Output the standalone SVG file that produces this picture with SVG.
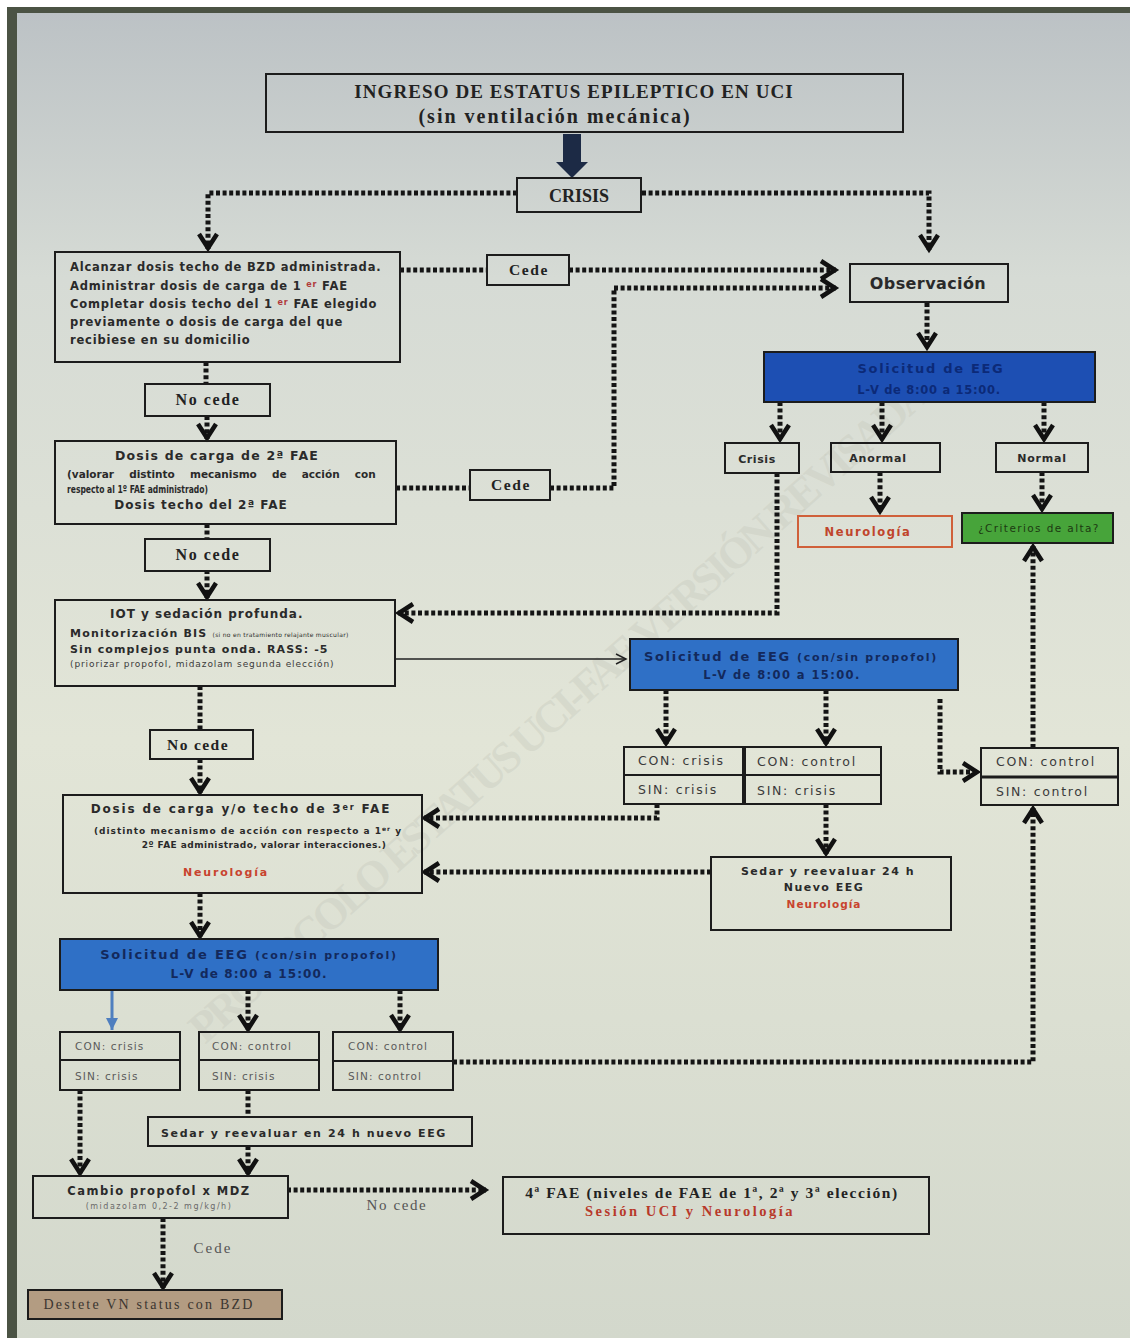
<svg xmlns="http://www.w3.org/2000/svg" width="1130" height="1338" viewBox="0 0 1130 1338">
<defs>
<linearGradient id="bg" x1="0" y1="0" x2="0" y2="1">
<stop offset="0" stop-color="#bcc2c5"/>
<stop offset="0.2" stop-color="#d6dbd5"/>
<stop offset="0.55" stop-color="#e2e5d7"/>
<stop offset="1" stop-color="#d3d8cc"/>
</linearGradient>
<marker id="ch" markerUnits="userSpaceOnUse" markerWidth="24" markerHeight="24" viewBox="0 0 24 24" refX="19" refY="12" orient="auto">
<path d="M4,3 L18,12 L4,21" fill="none" stroke="#111" stroke-width="4.5" stroke-linejoin="miter"/>
</marker>
<marker id="thin" markerUnits="userSpaceOnUse" markerWidth="14" markerHeight="14" viewBox="0 0 14 14" refX="12" refY="7" orient="auto">
<path d="M2,2 L12,7 L2,12" fill="none" stroke="#222" stroke-width="1.5"/>
</marker>
<marker id="blu" markerUnits="userSpaceOnUse" markerWidth="16" markerHeight="16" viewBox="0 0 16 16" refX="14" refY="8" orient="auto">
<path d="M2,2 L14,8 L2,14 Z" fill="#4f7fbf"/>
</marker>
<style>
.box{fill:none;stroke:#1c1c1c;stroke-width:2}
.dot{fill:none;stroke:#141414;stroke-width:5;stroke-dasharray:4 2.6}
.sb{font-family:"DejaVu Sans",Verdana,sans-serif;font-weight:bold;fill:#2a2a2a}
.sr{font-family:"DejaVu Sans",Verdana,sans-serif;fill:#3a3a3a}
.sf{font-family:"Liberation Serif","Times New Roman",serif;font-weight:bold;fill:#222}
.sfr{font-family:"Liberation Serif","Times New Roman",serif;fill:#555}
.mid{text-anchor:middle}
.eeg1{fill:#1d4fb3;stroke:#1c1c1c;stroke-width:2}
.eeg{fill:#2f70c6;stroke:#1c1c1c;stroke-width:2}
.et1{fill:#0c2a78}
.et{fill:#13295c}
.tb{fill:none;stroke:#1c1c1c;stroke-width:2}
.ta{font-family:"DejaVu Sans",Verdana,sans-serif;fill:#3a3a3a;font-size:12.5px;letter-spacing:1.7px}
.tc{font-family:"DejaVu Sans",Verdana,sans-serif;fill:#5a5a5a;font-size:10.5px;letter-spacing:1.1px}
</style>
</defs>

<rect x="0" y="0" width="1130" height="1338" fill="#ffffff"/>
<rect x="7" y="7" width="1123" height="1331" fill="#4b5344"/>
<rect x="17" y="13" width="1113" height="1325" fill="url(#bg)"/>

<!-- watermark -->
<text x="205" y="1045" transform="rotate(-41.7 205 1045)" font-family="Liberation Serif, serif" font-weight="bold" font-size="44" fill="#c9ccc0" fill-opacity="0.45" textLength="975" lengthAdjust="spacing">PROTOCOLO ESTATUS UCI-FAE VERSIÓN REVISADA</text>

<g id="connectors">
<path d="M563,134 H581 V162 H588 L572,178 L556,162 H563 Z" fill="#1c2a45"/>
<path class="dot" d="M517,193 H208 V249" marker-end="url(#ch)"/>
<path class="dot" d="M642,193 H929 V250" marker-end="url(#ch)"/>
<path class="dot" d="M400,270 H487"/>
<path class="dot" d="M569,270 H836" marker-end="url(#ch)"/>
<path class="dot" d="M396,488 H470"/>
<path class="dot" d="M550,488 H614 V288 H836" marker-end="url(#ch)"/>
<path class="dot" d="M927,303 V348" marker-end="url(#ch)"/>
<path class="dot" d="M780,402 V440" marker-end="url(#ch)"/>
<path class="dot" d="M882,402 V440" marker-end="url(#ch)"/>
<path class="dot" d="M1044,402 V440" marker-end="url(#ch)"/>
<path class="dot" d="M880,472 V512" marker-end="url(#ch)"/>
<path class="dot" d="M1042,472 V510" marker-end="url(#ch)"/>
<path class="dot" d="M777,473 V613 H398" marker-end="url(#ch)"/>
<path class="dot" d="M206,362 V384"/>
<path class="dot" d="M207,416 V439" marker-end="url(#ch)"/>
<path class="dot" d="M207,524 V538"/>
<path class="dot" d="M207,570 V598" marker-end="url(#ch)"/>
<path class="dot" d="M200,686 V730"/>
<path class="dot" d="M200,759 V793" marker-end="url(#ch)"/>
<path class="dot" d="M200,893 V937" marker-end="url(#ch)"/>
<path d="M395,659 H626" fill="none" stroke="#222" stroke-width="1.5" marker-end="url(#thin)"/>
<path class="dot" d="M666,690 V744" marker-end="url(#ch)"/>
<path class="dot" d="M826,690 V744" marker-end="url(#ch)"/>
<path class="dot" d="M940,699 V772 H978" marker-end="url(#ch)"/>
<path class="dot" d="M657,804 V818 H424" marker-end="url(#ch)"/>
<path class="dot" d="M826,804 V854" marker-end="url(#ch)"/>
<path class="dot" d="M711,872 H424" marker-end="url(#ch)"/>
<path class="dot" d="M1033,748 V546" marker-end="url(#ch)"/>
<path class="dot" d="M453,1062 H1033 V808" marker-end="url(#ch)"/>
<path d="M112,990 V1030" fill="none" stroke="#4f7fbf" stroke-width="3" marker-end="url(#blu)"/>
<path class="dot" d="M248,990 V1030" marker-end="url(#ch)"/>
<path class="dot" d="M400,990 V1030" marker-end="url(#ch)"/>
<path class="dot" d="M80,1090 V1174" marker-end="url(#ch)"/>
<path class="dot" d="M248,1090 V1117"/>
<path class="dot" d="M248,1146 V1174" marker-end="url(#ch)"/>
<path class="dot" d="M287,1190 H486" marker-end="url(#ch)"/>
<path class="dot" d="M163,1218 V1288" marker-end="url(#ch)"/>
<text class="sfr" x="397" y="1210" font-size="15" text-anchor="middle" letter-spacing="1.6">No cede</text>
<text class="sfr" x="213" y="1253" font-size="15" text-anchor="middle" letter-spacing="2">Cede</text>
</g>

<g id="title">
<rect class="box" x="266" y="74" width="637" height="58"/>
<text class="sf mid" x="574" y="98" font-size="19" letter-spacing="1.1">INGRESO DE ESTATUS EPILEPTICO EN UCI</text>
<text class="sf mid" x="555" y="123" font-size="20" letter-spacing="2">(sin ventilación mecánica)</text>
</g>

<g id="crisis">
<rect class="box" x="517" y="178" width="124" height="34"/>
<text class="sf mid" x="579" y="202" font-size="18" font-weight="normal">CRISIS</text>
</g>

<g id="box1">
<rect class="box" x="55" y="252" width="345" height="110"/>
<text class="sb" x="70" y="271" font-size="11.5" letter-spacing="0.8">Alcanzar dosis techo de BZD administrada.</text>
<text class="sb" x="70" y="290" font-size="11.5" letter-spacing="0.8">Administrar dosis de carga de 1 <tspan fill="#b03a3a" font-size="8" dy="-3">er</tspan><tspan dy="3"> FAE</tspan></text>
<text class="sb" x="70" y="308" font-size="11.5" letter-spacing="0.8">Completar dosis techo del 1 <tspan fill="#b03a3a" font-size="8" dy="-3">er</tspan><tspan dy="3"> FAE elegido</tspan></text>
<text class="sb" x="70" y="326" font-size="11.5" letter-spacing="0.8">previamente o dosis de carga del que</text>
<text class="sb" x="70" y="344" font-size="11.5" letter-spacing="0.8">recibiese en su domicilio</text>
</g>

<g id="cede1">
<rect class="box" x="487" y="255" width="82" height="30"/>
<text class="sf mid" x="529" y="275" font-size="15.5" letter-spacing="1.6">Cede</text>
</g>

<g id="observacion">
<rect class="box" x="850" y="264" width="158" height="38"/>
<text class="sb mid" x="928" y="289" font-size="16" letter-spacing="0.4">Observación</text>
</g>

<g id="eeg1">
<rect class="eeg1" x="764" y="352" width="331" height="50"/>
<text class="sb mid et1" x="931" y="373" font-size="13" letter-spacing="1.7">Solicitud de EEG</text>
<text class="sb mid et1" x="929" y="394" font-size="11.5" letter-spacing="0.7">L-V de 8:00 a 15:00.</text>
</g>

<g id="crisis-eeg">
<rect class="box" x="725" y="443" width="74" height="30"/>
<text class="sb mid" x="757" y="463" font-size="11" letter-spacing="0.6">Crisis</text>
</g>
<g id="anormal">
<rect class="box" x="831" y="443" width="109" height="29"/>
<text class="sb mid" x="878" y="462" font-size="11" letter-spacing="0.8">Anormal</text>
</g>
<g id="normal">
<rect class="box" x="996" y="443" width="92" height="29"/>
<text class="sb mid" x="1042" y="462" font-size="11" letter-spacing="0.8">Normal</text>
</g>

<g id="neurologia1">
<rect x="798" y="516" width="154" height="31" fill="none" stroke="#d0603a" stroke-width="2"/>
<text class="sb mid" x="868" y="536" font-size="11.5" style="fill:#c0452b" letter-spacing="1.6">Neurología</text>
</g>

<g id="criterios">
<rect x="962" y="513" width="151" height="30" fill="#47a43a" stroke="#1c1c1c" stroke-width="2"/>
<text class="sr mid" x="1039" y="532" font-size="10.5" letter-spacing="1.4" style="fill:#1d3a12">¿Criterios de alta?</text>
</g>

<g id="nocede1">
<rect class="box" x="145" y="384" width="125" height="32"/>
<text class="sf mid" x="208" y="405" font-size="16" letter-spacing="1.6">No cede</text>
</g>

<g id="box2">
<rect class="box" x="55" y="441" width="341" height="83"/>
<text class="sb mid" x="217" y="460" font-size="12.5" letter-spacing="1.2">Dosis de carga de 2ª FAE</text>
<text class="sb" x="67" y="478" font-size="10.5" word-spacing="11.5">(valorar distinto mecanismo de acción con</text>
<text class="sb" x="67" y="493" font-size="10" textLength="141" lengthAdjust="spacingAndGlyphs">respecto al 1º FAE administrado)</text>
<text class="sb mid" x="201" y="509" font-size="12" letter-spacing="1">Dosis techo del  2ª FAE</text>
</g>

<g id="cede2">
<rect class="box" x="470" y="470" width="80" height="30"/>
<text class="sf mid" x="511" y="490" font-size="15.5" letter-spacing="1.6">Cede</text>
</g>

<g id="nocede2">
<rect class="box" x="145" y="539" width="125" height="32"/>
<text class="sf mid" x="208" y="560" font-size="16" letter-spacing="1.6">No cede</text>
</g>

<g id="box3">
<rect class="box" x="55" y="600" width="340" height="86"/>
<text class="sb" x="110" y="618" font-size="12" letter-spacing="1">IOT y sedación profunda.</text>
<text class="sb" x="70" y="637" font-size="11" letter-spacing="1.2">Monitorización BIS <tspan font-size="6" font-weight="normal" letter-spacing="0.3">(si no en tratamiento relajante muscular)</tspan></text>
<text class="sb" x="70" y="653" font-size="11" letter-spacing="1.1">Sin complejos punta onda. RASS: -5</text>
<text class="sr" x="70" y="667" font-size="9" letter-spacing="0.9">(priorizar propofol, midazolam segunda elección)</text>
</g>

<g id="eeg2">
<rect class="eeg" x="630" y="639" width="328" height="51"/>
<text class="sb mid et" x="791" y="661" font-size="13" letter-spacing="1.7">Solicitud de EEG <tspan font-size="11">(con/sin propofol)</tspan></text>
<text class="sb mid et" x="782" y="679" font-size="11.5" font-weight="normal" letter-spacing="1.4">L-V de 8:00 a 15:00.</text>
</g>

<g id="tablaA">
<rect class="tb" x="624" y="747" width="257" height="57"/>
<line x1="624" y1="775" x2="881" y2="775" stroke="#1c1c1c" stroke-width="2"/>
<line x1="744" y1="747" x2="744" y2="804" stroke="#1c1c1c" stroke-width="4"/>
<text class="ta" x="638" y="765">CON: crisis</text>
<text class="ta" x="638" y="794">SIN: crisis</text>
<text class="ta" x="757" y="766">CON: control</text>
<text class="ta" x="757" y="795">SIN: crisis</text>
</g>

<g id="tablaB">
<rect class="tb" x="981" y="748" width="137" height="57"/>
<line x1="981" y1="777" x2="1118" y2="777" stroke="#1c1c1c" stroke-width="3"/>
<text class="ta" x="996" y="766">CON: control</text>
<text class="ta" x="996" y="796">SIN:  control</text>
</g>

<g id="nocede3">
<rect class="box" x="150" y="730" width="103" height="29"/>
<text class="sf mid" x="198" y="750" font-size="15.5" letter-spacing="1.4">No cede</text>
</g>

<g id="box4">
<rect class="box" x="63" y="795" width="359" height="98"/>
<text class="sb mid" x="241" y="813" font-size="12" letter-spacing="1.8">Dosis de carga y/o techo de 3<tspan font-size="8" dy="-3">er</tspan><tspan dy="3"> FAE</tspan></text>
<text class="sb mid" x="248" y="834" font-size="9" letter-spacing="1">(distinto mecanismo de acción con respecto a 1<tspan font-size="6" dy="-3">er</tspan><tspan dy="3"> y</tspan></text>
<text class="sb mid" x="264" y="848" font-size="9" letter-spacing="0.45">2º FAE administrado, valorar interacciones.)</text>
<text class="sb mid" x="226" y="876" font-size="11" letter-spacing="1.8" style="fill:#c8432e">Neurología</text>
</g>

<g id="sedar1">
<rect class="box" x="711" y="857" width="240" height="73"/>
<text class="sb mid" x="828" y="875" font-size="11" letter-spacing="1.5">Sedar y reevaluar 24 h</text>
<text class="sb mid" x="824" y="891" font-size="11" letter-spacing="1.5">Nuevo EEG</text>
<text class="sb mid" x="824" y="908" font-size="10.5" letter-spacing="1" style="fill:#c8432e">Neurología</text>
</g>

<g id="eeg3">
<rect class="eeg" x="60" y="939" width="378" height="51"/>
<text class="sb mid et" x="249" y="959" font-size="13" letter-spacing="1.8">Solicitud de EEG <tspan font-size="11">(con/sin propofol)</tspan></text>
<text class="sb mid et" x="249" y="978" font-size="12" font-weight="normal" letter-spacing="1.1">L-V de 8:00 a 15:00.</text>
</g>

<g id="t1">
<rect class="tb" x="60" y="1032" width="120" height="58"/>
<line x1="60" y1="1060" x2="180" y2="1060" stroke="#1c1c1c" stroke-width="2"/>
<text class="tc" x="75" y="1050">CON: crisis</text>
<text class="tc" x="75" y="1080">SIN: crisis</text>
</g>
<g id="t2">
<rect class="tb" x="199" y="1032" width="120" height="58"/>
<line x1="199" y1="1060" x2="319" y2="1060" stroke="#1c1c1c" stroke-width="2"/>
<text class="tc" x="212" y="1050">CON: control</text>
<text class="tc" x="212" y="1080">SIN:  crisis</text>
</g>
<g id="t3">
<rect class="tb" x="333" y="1032" width="120" height="58"/>
<line x1="333" y1="1061" x2="453" y2="1061" stroke="#1c1c1c" stroke-width="2"/>
<text class="tc" x="348" y="1050">CON: control</text>
<text class="tc" x="348" y="1080">SIN: control</text>
</g>

<g id="sedar2">
<rect class="box" x="148" y="1117" width="324" height="29"/>
<text class="sb mid" x="304" y="1137" font-size="11" letter-spacing="1.6">Sedar y reevaluar en 24 h nuevo EEG</text>
</g>

<g id="cambio">
<rect class="box" x="33" y="1176" width="255" height="42"/>
<text class="sb mid" x="159" y="1195" font-size="11.5" letter-spacing="1.5">Cambio propofol x MDZ</text>
<text class="sr mid" x="159" y="1209" font-size="8" letter-spacing="1.5" style="fill:#6a6a6a">(midazolam 0,2-2 mg/kg/h)</text>
</g>

<g id="fae4">
<rect class="box" x="503" y="1177" width="426" height="57"/>
<text class="sf mid" x="712" y="1198" font-size="15.5" letter-spacing="1.6">4ª FAE (niveles de FAE de 1ª, 2ª y 3ª elección)</text>
<text class="sf mid" x="690" y="1216" font-size="14.5" letter-spacing="2.5" style="fill:#b8392a">Sesión UCI y Neurología</text>
</g>

<g id="destete">
<rect x="28" y="1290" width="254" height="29" fill="#b39c82" stroke="#1c1c1c" stroke-width="2"/>
<text class="sfr mid" x="149" y="1309" font-size="14" letter-spacing="2.2" style="fill:#3a3530">Destete VN status con BZD</text>
</g>
</svg>
